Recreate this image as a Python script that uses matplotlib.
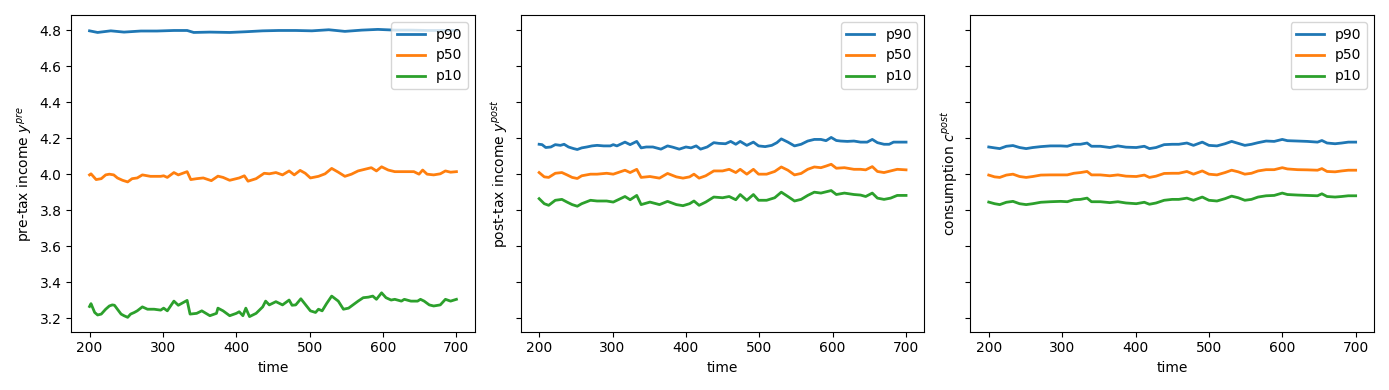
import matplotlib.pyplot as plt

# --- pre-tax income (panel 1) ---
t1_p90 = [200, 211, 229, 247, 270, 292, 315, 333, 342, 364, 391, 413, 436, 458, 481,
          503, 526, 548, 571, 593, 616, 638, 660, 683, 700]
pre_p90 = [4.796, 4.787, 4.796, 4.789, 4.795, 4.795, 4.798, 4.798, 4.787, 4.789, 4.787,
           4.791, 4.796, 4.798, 4.798, 4.796, 4.802, 4.793, 4.800, 4.804, 4.800, 4.800,
           4.798, 4.798, 4.798]

t1_p50 = [200, 202, 209, 216, 222, 227, 233, 238, 245, 252, 258, 265, 272, 283, 297,
          301, 306, 315, 321, 333, 338, 346, 355, 366, 375, 382, 391, 404, 411, 416,
          427, 438, 445, 454, 463, 472, 479, 487, 494, 501, 512, 521, 530, 539, 548,
          557, 566, 575, 584, 591, 598, 607, 616, 629, 642, 649, 654, 660, 669, 678,
          685, 692, 700]
pre_p50 = [3.996, 4.002, 3.970, 3.975, 3.996, 4.000, 3.996, 3.979, 3.966, 3.957, 3.975,
           3.979, 3.996, 3.988, 3.988, 3.991, 3.982, 4.009, 3.996, 4.014, 3.970, 3.975,
           3.979, 3.964, 3.989, 3.982, 3.966, 3.979, 3.991, 3.961, 3.975, 4.005, 4.002,
           4.009, 3.996, 4.018, 3.996, 4.021, 4.005, 3.979, 3.988, 4.002, 4.032, 4.011,
           3.988, 4.000, 4.018, 4.027, 4.036, 4.018, 4.041, 4.023, 4.014, 4.014, 4.014,
           4.000, 4.023, 4.000, 3.996, 4.002, 4.018, 4.011, 4.014]

t1_p10 = [200, 202, 207, 211, 216, 222, 227, 231, 234, 238, 243, 247, 252, 256, 261,
          265, 272, 279, 288, 297, 301, 306, 315, 321, 333, 337, 346, 353, 364, 373,
          375, 382, 391, 400, 404, 409, 413, 418, 427, 436, 440, 445, 454, 463, 472,
          476, 481, 488, 494, 501, 508, 512, 517, 523, 530, 539, 546, 553, 559, 566,
          573, 580, 586, 591, 598, 604, 611, 616, 625, 629, 638, 647, 651, 656, 663,
          669, 678, 685, 692, 700]
pre_p10 = [3.265, 3.281, 3.232, 3.218, 3.223, 3.250, 3.268, 3.274, 3.272, 3.250, 3.223,
           3.214, 3.205, 3.223, 3.232, 3.241, 3.263, 3.250, 3.250, 3.245, 3.256, 3.241,
           3.295, 3.272, 3.299, 3.223, 3.227, 3.241, 3.214, 3.227, 3.256, 3.241, 3.214,
           3.227, 3.236, 3.214, 3.256, 3.209, 3.227, 3.263, 3.295, 3.274, 3.292, 3.274,
           3.301, 3.272, 3.274, 3.308, 3.277, 3.241, 3.232, 3.250, 3.241, 3.281, 3.323,
           3.295, 3.250, 3.256, 3.274, 3.295, 3.314, 3.317, 3.323, 3.305, 3.341, 3.314,
           3.301, 3.305, 3.295, 3.305, 3.295, 3.295, 3.305, 3.295, 3.274, 3.268, 3.274,
           3.305, 3.295, 3.305]

# --- post-tax income (panel 2) ---
t2_p90 = [200, 204, 209, 216, 222, 229, 234, 240, 247, 252, 258, 265, 272, 279, 288,
          297, 301, 306, 317, 324, 333, 339, 346, 355, 366, 375, 382, 391, 400, 407,
          414, 420, 429, 438, 445, 454, 461, 468, 474, 483, 492, 499, 508, 517, 524,
          530, 539, 548, 557, 566, 575, 584, 591, 598, 605, 611, 620, 629, 638, 647,
          654, 661, 670, 677, 683, 692, 700]
post_p90 = [4.166, 4.164, 4.148, 4.151, 4.164, 4.160, 4.166, 4.151, 4.142, 4.137, 4.146,
            4.151, 4.157, 4.160, 4.157, 4.157, 4.164, 4.157, 4.178, 4.164, 4.182, 4.146,
            4.151, 4.151, 4.139, 4.157, 4.150, 4.139, 4.151, 4.146, 4.157, 4.139, 4.151,
            4.175, 4.171, 4.169, 4.182, 4.166, 4.182, 4.160, 4.178, 4.157, 4.153, 4.160,
            4.175, 4.196, 4.178, 4.157, 4.166, 4.184, 4.193, 4.193, 4.186, 4.204, 4.187,
            4.184, 4.182, 4.184, 4.178, 4.178, 4.193, 4.175, 4.166, 4.166, 4.178, 4.178,
            4.178]

t2 = [200, 207, 213, 222, 231, 238, 245, 252, 258, 270, 279, 292, 301, 317, 324,
      333, 339, 351, 364, 375, 387, 396, 405, 411, 418, 427, 438, 450, 459, 468,
      474, 483, 492, 499, 510, 521, 530, 539, 548, 557, 566, 575, 584, 591, 598,
      605, 616, 629, 638, 645, 654, 661, 670, 679, 688, 700]
post_p50 = [4.009, 3.985, 3.982, 4.005, 4.009, 3.996, 3.982, 3.976, 3.991, 4.000, 4.000,
            4.005, 4.000, 4.022, 4.009, 4.027, 3.982, 3.987, 3.978, 4.004, 3.985, 3.978,
            3.985, 4.000, 3.978, 3.991, 4.018, 4.018, 4.027, 4.009, 4.027, 4.000, 4.027,
            4.000, 4.000, 4.015, 4.040, 4.022, 3.996, 4.004, 4.027, 4.040, 4.036, 4.045,
            4.055, 4.033, 4.036, 4.027, 4.027, 4.024, 4.042, 4.015, 4.009, 4.018, 4.027,
            4.024]
post_p10 = [3.864, 3.836, 3.827, 3.855, 3.860, 3.845, 3.831, 3.822, 3.836, 3.855, 3.851,
            3.851, 3.845, 3.876, 3.858, 3.882, 3.831, 3.845, 3.831, 3.849, 3.831, 3.825,
            3.836, 3.851, 3.827, 3.845, 3.873, 3.869, 3.876, 3.858, 3.887, 3.855, 3.887,
            3.855, 3.855, 3.869, 3.900, 3.876, 3.851, 3.860, 3.882, 3.900, 3.895, 3.902,
            3.909, 3.887, 3.895, 3.887, 3.884, 3.876, 3.895, 3.867, 3.860, 3.867, 3.882,
            3.882]

# --- consumption (panel 3) ---
t3 = [200, 208, 215, 224, 233, 242, 251, 260, 271, 284, 298, 307, 316, 325, 334,
      340, 352, 365, 376, 387, 401, 412, 419, 428, 439, 450, 459, 470, 479, 491,
      500, 511, 522, 531, 540, 549, 558, 567, 578, 589, 600, 607, 621, 634, 648,
      654, 661, 672, 681, 690, 700]
cons_p90 = [4.151, 4.146, 4.142, 4.155, 4.159, 4.148, 4.142, 4.148, 4.153, 4.157, 4.157,
            4.155, 4.166, 4.166, 4.173, 4.155, 4.155, 4.148, 4.157, 4.150, 4.148, 4.155,
            4.142, 4.148, 4.164, 4.166, 4.166, 4.173, 4.160, 4.178, 4.160, 4.157, 4.169,
            4.182, 4.171, 4.160, 4.166, 4.175, 4.184, 4.182, 4.193, 4.186, 4.184, 4.182,
            4.178, 4.187, 4.173, 4.169, 4.173, 4.178, 4.178]
cons_p50 = [3.995, 3.985, 3.982, 3.995, 4.000, 3.987, 3.982, 3.987, 3.995, 3.996, 3.996,
            3.996, 4.005, 4.009, 4.015, 3.996, 3.996, 3.991, 3.996, 3.989, 3.987, 3.995,
            3.982, 3.989, 4.004, 4.005, 4.005, 4.015, 4.000, 4.018, 4.000, 3.996, 4.009,
            4.022, 4.013, 4.000, 4.005, 4.018, 4.025, 4.025, 4.036, 4.029, 4.025, 4.024,
            4.022, 4.031, 4.015, 4.013, 4.018, 4.022, 4.022]
cons_p10 = [3.845, 3.836, 3.831, 3.844, 3.849, 3.836, 3.831, 3.836, 3.844, 3.847, 3.849,
            3.847, 3.858, 3.860, 3.867, 3.847, 3.847, 3.842, 3.847, 3.840, 3.836, 3.844,
            3.833, 3.840, 3.855, 3.860, 3.860, 3.867, 3.855, 3.873, 3.855, 3.851, 3.864,
            3.878, 3.869, 3.855, 3.860, 3.873, 3.880, 3.882, 3.895, 3.887, 3.884, 3.882,
            3.880, 3.891, 3.876, 3.873, 3.876, 3.880, 3.880]

panels = [
    ('pre-tax income $y^{pre}$', (t1_p90, pre_p90), (t1_p50, pre_p50), (t1_p10, pre_p10)),
    ('post-tax income $y^{post}$', (t2_p90, post_p90), (t2, post_p50), (t2, post_p10)),
    ('consumption $c^{post}$', (t3, cons_p90), (t3, cons_p50), (t3, cons_p10)),
]

fig, axes = plt.subplots(1, 3, figsize=(13.89, 3.9), sharey=True)

for ax, (ylabel, s90, s50, s10) in zip(axes, panels):
    ax.plot(s90[0], s90[1], color='#1f77b4', linewidth=2, label='p90')
    ax.plot(s50[0], s50[1], color='#ff7f0e', linewidth=2, label='p50')
    ax.plot(s10[0], s10[1], color='#2ca02c', linewidth=2, label='p10')
    ax.set_xlabel('time')
    ax.set_ylabel(ylabel)
    ax.set_xticks([200, 300, 400, 500, 600, 700])
    ax.legend(loc='upper right')

plt.tight_layout()
plt.savefig('out.png', dpi=100)
